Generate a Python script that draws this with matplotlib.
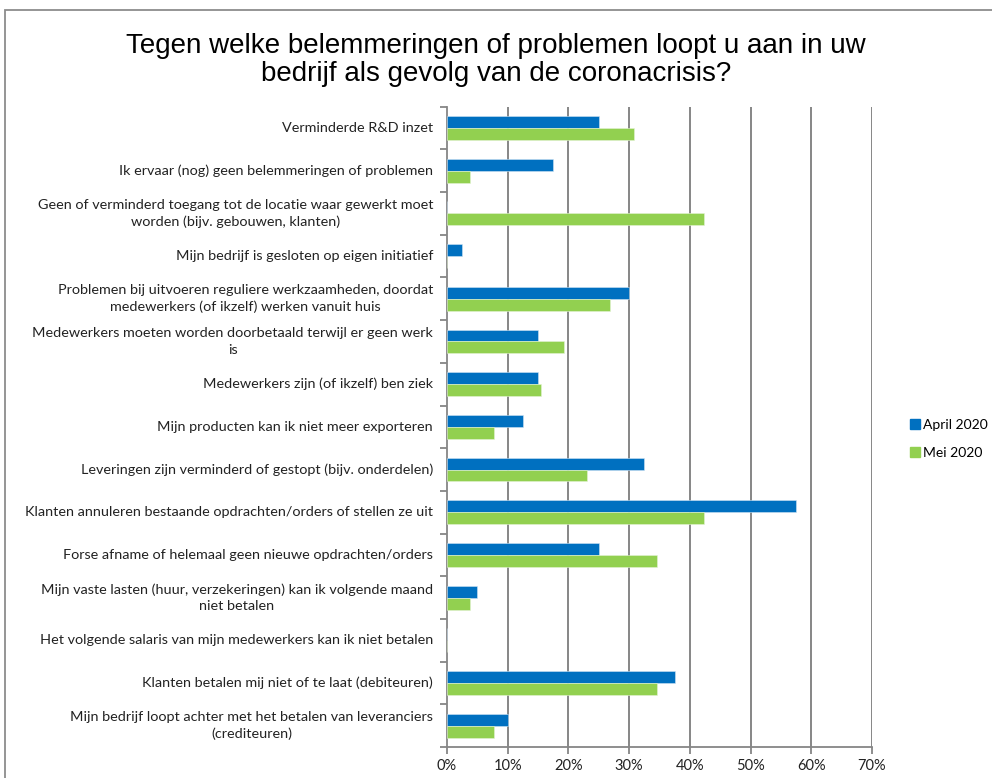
import matplotlib
matplotlib.use("Agg")
import matplotlib.pyplot as plt
import numpy as np
from matplotlib.patches import Rectangle
from matplotlib.lines import Line2D

categories = [
    "Verminderde R&D inzet",
    "Ik ervaar (nog) geen belemmeringen of problemen",
    "Geen of verminderd toegang tot de locatie waar gewerkt moet\nworden (bijv. gebouwen, klanten)",
    "Mijn bedrijf is gesloten op eigen initiatief",
    "Problemen bij uitvoeren reguliere werkzaamheden, doordat\nmedewerkers (of ikzelf) werken vanuit huis",
    "Medewerkers moeten worden doorbetaald terwijl er geen werk\nis",
    "Medewerkers zijn (of ikzelf) ben ziek",
    "Mijn producten kan ik niet meer exporteren",
    "Leveringen zijn verminderd of gestopt (bijv. onderdelen)",
    "Klanten annuleren bestaande opdrachten/orders of stellen ze uit",
    "Forse afname of helemaal geen nieuwe opdrachten/orders",
    "Mijn vaste lasten (huur, verzekeringen) kan ik volgende maand\nniet betalen",
    "Het volgende salaris van mijn medewerkers kan ik niet betalen",
    "Klanten betalen mij niet of te laat (debiteuren)",
    "Mijn bedrijf loopt achter met het betalen van leveranciers\n(crediteuren)",
]
april_2020 = [25.0, 17.5, 0.0, 2.5, 30.0, 15.0, 15.0, 12.5, 32.5, 57.5, 25.0, 5.0, 0.0, 37.5, 10.0]
mei_2020 = [30.8, 3.8, 42.3, 0.0, 26.9, 19.2, 15.4, 7.7, 23.1, 42.3, 34.6, 3.8, 0.0, 34.6, 7.7]
series_names = ["April 2020", "Mei 2020"]
x_ticks = [0, 10, 20, 30, 40, 50, 60, 70]

blue = "#0070C0"
green = "#92D050"
grid_c = "#868686"
label_font = ["Lato", "DejaVu Sans"]

fig = plt.figure(figsize=(9.92, 7.78), dpi=100)
W, H = 992, 778
ax = fig.add_axes([447 / W, 1 - 747 / H, (872 - 447) / W, (747 - 106.7) / H])

n = len(categories)
y = np.arange(n)
bh = 0.28
ax.barh(y - bh / 2, april_2020, height=bh, color=blue, edgecolor="#cfe3f3", linewidth=0.4, zorder=3)
ax.barh(y + bh / 2, mei_2020, height=bh, color=green, edgecolor="#e4f3d4", linewidth=0.4, zorder=3)

ax.set_ylim(n - 0.5, -0.5)
ax.set_xlim(0, 70)
ax.set_xticks(x_ticks)
ax.set_xticklabels([f"{v}%" for v in x_ticks], fontsize=10.5, family=label_font, color="#222222")
ax.set_yticks(np.arange(n + 1) - 0.5)
ax.set_yticklabels([])
ax.tick_params(axis="y", length=5, width=1.3, color=grid_c, direction="out")
ax.tick_params(axis="x", length=5, width=1.3, color=grid_c, direction="out", pad=4)

for v in x_ticks[1:]:
    ax.axvline(v, color=grid_c, linewidth=1.4, zorder=1)

for s in ["top", "right"]:
    ax.spines[s].set_visible(False)
for s in ["left", "bottom"]:
    ax.spines[s].set_color(grid_c)
    ax.spines[s].set_linewidth(1.3)

for i, lab in enumerate(categories):
    ax.text(-2.3, i, lab, ha="right", va="center", multialignment="center",
            fontsize=10.4, family=label_font, color="#222222", linespacing=1.45)

fig.text(0.5, 1 - 60 / H, "Tegen welke belemmeringen of problemen loopt u aan in uw\nbedrijf als gevolg van de coronacrisis?",
         ha="center", va="center", fontsize=20,
         family=["Liberation Sans Narrow", "Liberation Sans", "DejaVu Sans"], color="#000000", linespacing=1.12)

handles = [Line2D([], [], marker="s", linestyle="none", color=blue, markersize=6.5),
           Line2D([], [], marker="s", linestyle="none", color=green, markersize=6.5)]
fig.legend(handles, series_names, loc="center left", bbox_to_anchor=(897 / W, 1 - 439 / H),
           frameon=False, prop={"family": label_font, "size": 10}, handletextpad=0.15,
           labelspacing=1.15, handlelength=0.8)

fig.patches.append(Rectangle((5 / W, -0.05), 1.1, 1 - 10 / H + 0.05, transform=fig.transFigure,
                             fill=False, edgecolor="#8c8c8c", linewidth=1.3))

fig.savefig("out.png", dpi=100)
